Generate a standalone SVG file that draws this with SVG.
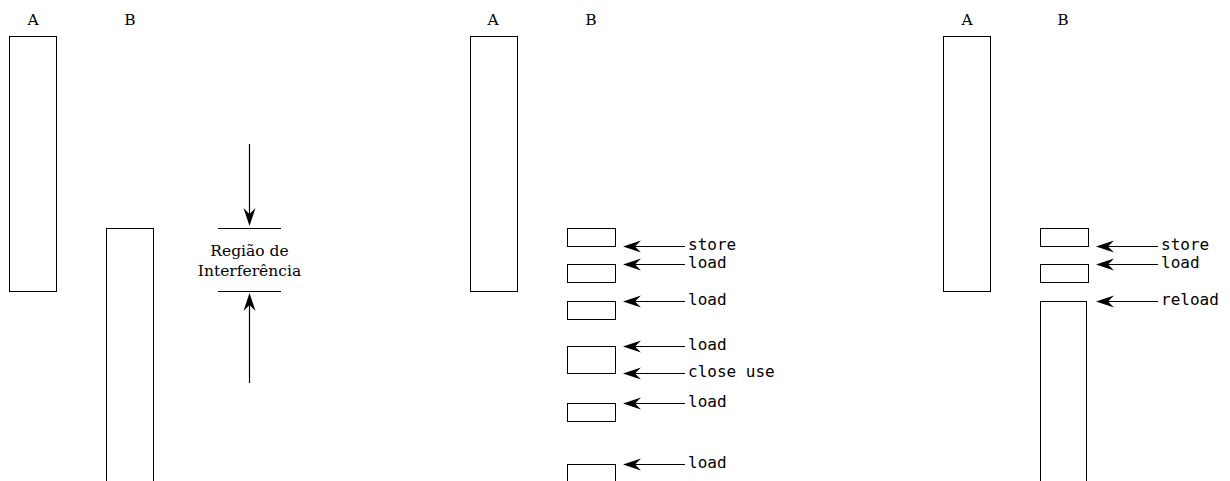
<svg xmlns="http://www.w3.org/2000/svg" width="1230" height="481" viewBox="0 0 1230 481">
<style>
.box{fill:#fff;stroke:#000;stroke-width:1}
.ln{stroke:#000;stroke-width:1.2;fill:none}
.hd{fill:#000;stroke:none}
.ser{font-family:"DejaVu Serif",serif;font-size:15.5px;fill:#000}
.mono{font-family:"DejaVu Sans Mono",monospace;font-size:16px;fill:#000}
</style>
<defs>
<path id="ahL" class="hd" d="M0,0 L18,-6 L12,0 L18,6 Z"/>
</defs>
<g id="p1">
<g id="p1-labelA"><text class="ser" x="33" y="25" text-anchor="middle">A</text></g>
<g id="p1-labelB"><text class="ser" x="130" y="25" text-anchor="middle">B</text></g>
<g id="p1-A"><rect class="box" x="9.5" y="36.5" width="47" height="255"/></g>
<g id="p1-B"><rect class="box" x="106.5" y="228.5" width="47" height="260"/></g>
<g id="p1-region">
<line class="ln" x1="218" y1="228.5" x2="281" y2="228.5"/>
<line class="ln" x1="218" y1="291.5" x2="281" y2="291.5"/>
<text class="ser" x="249.5" y="256" text-anchor="middle">Região de</text>
<text class="ser" x="249.5" y="276" text-anchor="middle">Interferência</text>
</g>
</g>
<g id="p2">
<g id="p2-labelA"><text class="ser" x="493" y="25" text-anchor="middle">A</text></g>
<g id="p2-labelB"><text class="ser" x="591" y="25" text-anchor="middle">B</text></g>
<g id="p2-A"><rect class="box" x="470.5" y="36.5" width="47" height="255"/></g>
<g id="p2-b1"><rect class="box" x="567.5" y="228.5" width="48" height="18"/></g>
<g id="p2-b2"><rect class="box" x="567.5" y="264.5" width="48" height="18"/></g>
<g id="p2-b3"><rect class="box" x="567.5" y="301.5" width="48" height="18"/></g>
<g id="p2-b4"><rect class="box" x="567.5" y="346.5" width="48" height="27"/></g>
<g id="p2-b5"><rect class="box" x="567.5" y="403.5" width="48" height="18"/></g>
<g id="p2-b6"><rect class="box" x="567.5" y="464.5" width="48" height="30"/></g>
<g id="p2-texts">
<text class="mono" x="688" y="250">store</text>
<text class="mono" x="688" y="268">load</text>
<text class="mono" x="688" y="305">load</text>
<text class="mono" x="688" y="350">load</text>
<text class="mono" x="688" y="377">close use</text>
<text class="mono" x="688" y="407">load</text>
<text class="mono" x="688" y="468">load</text>
</g>
</g>
<g id="p3">
<g id="p3-labelA"><text class="ser" x="967" y="25" text-anchor="middle">A</text></g>
<g id="p3-labelB"><text class="ser" x="1063" y="25" text-anchor="middle">B</text></g>
<g id="p3-A"><rect class="box" x="943.5" y="36.5" width="47" height="255"/></g>
<g id="p3-b1"><rect class="box" x="1040.5" y="228.5" width="48" height="18"/></g>
<g id="p3-b2"><rect class="box" x="1040.5" y="264.5" width="48" height="18"/></g>
<g id="p3-b3"><rect class="box" x="1040.5" y="301.5" width="46" height="200"/></g>
<g id="p3-texts">
<text class="mono" x="1161" y="250">store</text>
<text class="mono" x="1161" y="268">load</text>
<text class="mono" x="1161" y="305">reload</text>
</g>
</g>
<g id="connectors">
<line class="ln" x1="249.5" y1="144" x2="249.5" y2="215"/>
<use href="#ahL" transform="translate(249.5,226) rotate(-90)"/>
<line class="ln" x1="249.5" y1="383" x2="249.5" y2="304"/>
<use href="#ahL" transform="translate(249.5,293) rotate(90)"/>
<line class="ln" x1="635" y1="246.5" x2="685" y2="246.5"/><use href="#ahL" transform="translate(623,246.5)"/>
<line class="ln" x1="635" y1="264.5" x2="685" y2="264.5"/><use href="#ahL" transform="translate(623,264.5)"/>
<line class="ln" x1="635" y1="301.5" x2="685" y2="301.5"/><use href="#ahL" transform="translate(623,301.5)"/>
<line class="ln" x1="635" y1="346.5" x2="685" y2="346.5"/><use href="#ahL" transform="translate(623,346.5)"/>
<line class="ln" x1="635" y1="373.5" x2="685" y2="373.5"/><use href="#ahL" transform="translate(623,373.5)"/>
<line class="ln" x1="635" y1="403.5" x2="685" y2="403.5"/><use href="#ahL" transform="translate(623,403.5)"/>
<line class="ln" x1="635" y1="464.5" x2="685" y2="464.5"/><use href="#ahL" transform="translate(623,464.5)"/>
<line class="ln" x1="1108" y1="246.5" x2="1158" y2="246.5"/><use href="#ahL" transform="translate(1096,246.5)"/>
<line class="ln" x1="1108" y1="264.5" x2="1158" y2="264.5"/><use href="#ahL" transform="translate(1096,264.5)"/>
<line class="ln" x1="1108" y1="301.5" x2="1158" y2="301.5"/><use href="#ahL" transform="translate(1096,301.5)"/>
</g>
</svg>
